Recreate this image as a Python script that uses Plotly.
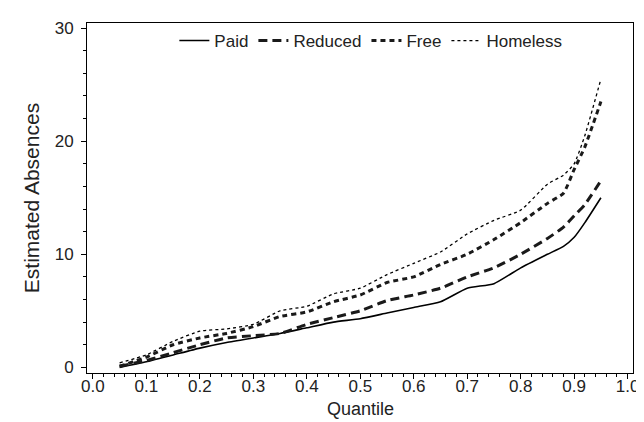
import plotly.graph_objects as go

quantile = [0.05, 0.10, 0.15, 0.20, 0.25, 0.30, 0.35, 0.40, 0.45, 0.50, 0.55,
            0.60, 0.65, 0.70, 0.75, 0.80, 0.85, 0.88, 0.90, 0.92, 0.95]
paid = [0.0, 0.5, 1.1, 1.7, 2.2, 2.6, 3.0, 3.5, 4.0, 4.3, 4.8,
        5.3, 5.8, 7.0, 7.4, 8.8, 10.0, 10.7, 11.5, 12.8, 15.0]
reduced = [0.1, 0.6, 1.3, 2.0, 2.6, 2.8, 3.0, 3.8, 4.4, 5.0, 5.9,
           6.4, 7.0, 8.0, 8.8, 10.0, 11.4, 12.4, 13.4, 14.4, 16.5]
free = [0.1, 0.9, 2.0, 2.6, 3.0, 3.6, 4.5, 4.9, 5.8, 6.4, 7.5,
        8.0, 9.1, 10.0, 11.3, 12.8, 14.5, 15.4, 17.5, 19.5, 23.5]
homeless = [0.4, 1.1, 2.3, 3.2, 3.4, 3.8, 5.0, 5.4, 6.5, 7.0, 8.2,
            9.2, 10.2, 11.8, 13.0, 13.9, 16.2, 17.0, 18.0, 20.5, 25.5]

series = [
    ("Paid", paid, dict(color="black", width=1.6, dash="solid")),
    ("Reduced", reduced, dict(color="#1a1a1a", width=3, dash="9px,5px")),
    ("Free", free, dict(color="#1a1a1a", width=3, dash="5px,4px")),
    ("Homeless", homeless, dict(color="black", width=1.3, dash="3px,3px")),
]

fig = go.Figure()
for name, vals, line in series:
    fig.add_trace(go.Scatter(x=quantile, y=vals, mode="lines", name=name,
                             line=dict(shape="spline", smoothing=0.5, **line)))

font = "Liberation Sans, Arial, sans-serif"
fig.update_layout(
    width=644, height=422,
    margin=dict(l=79, r=19, t=15, b=57, autoexpand=False),
    paper_bgcolor="white", plot_bgcolor="white",
    font=dict(family=font, size=17, color="#222"),
    showlegend=True,
    legend=dict(orientation="h", x=0.16, y=1.0, xanchor="left", yanchor="top",
                font=dict(size=17), bgcolor="rgba(0,0,0,0)", itemwidth=30,
                tracegroupgap=0),
    xaxis=dict(range=[-0.011, 1.01], tickmode="array",
               tickvals=[i / 10 for i in range(11)],
               ticktext=[f"{i / 10:.1f}" for i in range(11)],
               ticks="outside", ticklen=5, tickcolor="black",
               minor=dict(dtick=0.02, tick0=0, ticks="outside", ticklen=3, tickcolor="black"),
               showline=True, linecolor="black", linewidth=1, mirror=True,
               showgrid=False, zeroline=False, ticklabelstandoff=-7, automargin=False),
    yaxis=dict(range=[-0.5, 30.45], tickvals=[0, 10, 20, 30],
               ticks="outside", ticklen=5, tickcolor="black",
               minor=dict(dtick=2, tick0=0, ticks="outside", ticklen=3, tickcolor="black"),
               showline=True, linecolor="black", linewidth=1, mirror=True,
               showgrid=False, zeroline=False, ticklabelstandoff=4, automargin=False,
               title=dict(text="Estimated Absences", font=dict(size=21), standoff=9)),
    annotations=[dict(text="Quantile", xref="paper", yref="paper", x=0.5, y=-0.104,
                      xanchor="center", yanchor="middle", showarrow=False,
                      font=dict(size=18))],
)

fig.write_html("out.html")
